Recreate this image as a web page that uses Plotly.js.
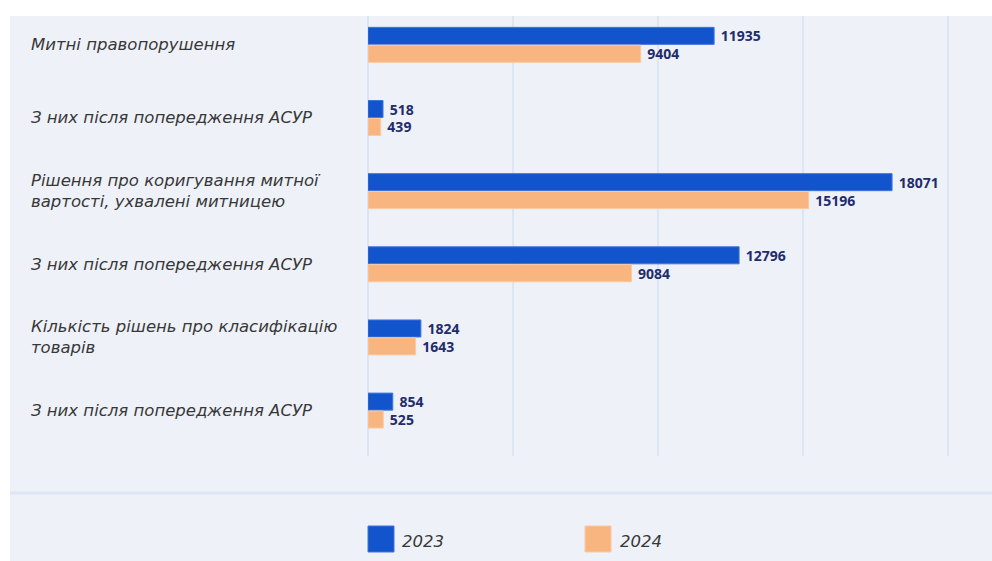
<!DOCTYPE html>
<html>
<head>
<meta charset="utf-8">
<script src="https://cdn.plot.ly/plotly-3.0.1.min.js"></script>
<style>html,body{margin:0;padding:0;background:#fff;}#chart{width:992px;height:561px;}</style>
</head>
<body>
<div id="chart"></div>
<script>
const categories = [
  "Митні правопорушення",
  "З них після попередження АСУР",
  "Рішення про коригування митної<br>вартості, ухвалені митницею",
  "З них після попередження АСУР",
  "Кількість рішень про класифікацію<br>товарів",
  "З них після попередження АСУР"
];
const values2023 = [11935, 518, 18071, 12796, 1824, 854];
const values2024 = [9404, 439, 15196, 9084, 1643, 525];
const seriesNames = ["2023", "2024"];

const W = 992, H = 561;
const L = 368, R = 0, T = 16, B = 105;
const pw = W - L - R, ph = H - T - B;
const px = x => (x - L) / pw;
const py = y => (H - B - y) / ph;

const BLUE = "#1254cc", ORANGE = "#f9b57f", NAVY = "#232c6b", PANEL = "#eef2f8", GRID = "#dce5f3";
const labelFont = {family: "DejaVu Sans, sans-serif", size: 16.5, color: "#383838", style: "italic"};

const idx = categories.map((_, i) => i);

function barTrace(name, vals, color, line) {
  return {
    type: "bar", orientation: "h", name: name,
    x: vals, y: idx,
    marker: {color: color, line: {color: line, width: 1}},
    texttemplate: "\u00a0%{x:d}",
    textposition: "outside",
    constraintext: "none",
    cliponaxis: false,
    outsidetextfont: {family: "Open Sans, sans-serif", size: 14, color: NAVY, weight: 700},
    hoverinfo: "x+name"
  };
}

const data = [
  barTrace(seriesNames[0], values2023, BLUE, "#3f74da"),
  barTrace(seriesNames[1], values2024, ORANGE, "#fbc9a0")
];

const annotations = categories.map((c, i) => ({
  xref: "paper", yref: "y", x: px(29), y: i, xanchor: "left", yanchor: "middle",
  align: "left", text: c, showarrow: false, font: labelFont
}));
annotations.push(
  {xref: "paper", yref: "paper", x: px(400), y: py(541), xanchor: "left", yanchor: "middle",
   text: seriesNames[0], showarrow: false, font: labelFont},
  {xref: "paper", yref: "paper", x: px(618), y: py(541), xanchor: "left", yanchor: "middle",
   text: seriesNames[1], showarrow: false, font: labelFont}
);

const shapes = [
  {type: "rect", xref: "paper", yref: "paper", x0: px(10), x1: 1, y0: py(H), y1: 1,
   fillcolor: PANEL, line: {width: 0}, layer: "below"},
  {type: "line", xref: "paper", yref: "paper", x0: px(10), x1: 1, y0: py(493), y1: py(493),
   line: {color: "#dde6f4", width: 3}},
  {type: "rect", xref: "paper", yref: "paper", x0: px(368), x1: px(394), y0: py(552), y1: py(526),
   fillcolor: BLUE, line: {color: "#3f74da", width: 1}},
  {type: "rect", xref: "paper", yref: "paper", x0: px(585), x1: px(611), y0: py(552), y1: py(526),
   fillcolor: ORANGE, line: {color: "#fbc9a0", width: 1}}
];

const layout = {
  width: W, height: H,
  margin: {l: L, r: R, t: T, b: B, pad: 0},
  paper_bgcolor: "#ffffff",
  plot_bgcolor: PANEL,
  barmode: "group",
  bargap: 0.51,
  bargroupgap: 0.05,
  showlegend: false,
  xaxis: {range: [0, 21517], dtick: 5000, tick0: 0, showticklabels: false, ticks: "",
          showgrid: true, gridcolor: GRID, gridwidth: 2, zeroline: true, zerolinecolor: GRID,
          zerolinewidth: 2, showline: false, fixedrange: true},
  yaxis: {range: [5.621, -0.394], showticklabels: false, showgrid: false, zeroline: false,
          ticks: "", showline: false, fixedrange: true},
  annotations: annotations,
  shapes: shapes,
  font: {family: "Open Sans, sans-serif"}
};

Plotly.newPlot("chart", data, layout, {displayModeBar: false, staticPlot: true});
</script>
</body>
</html>
